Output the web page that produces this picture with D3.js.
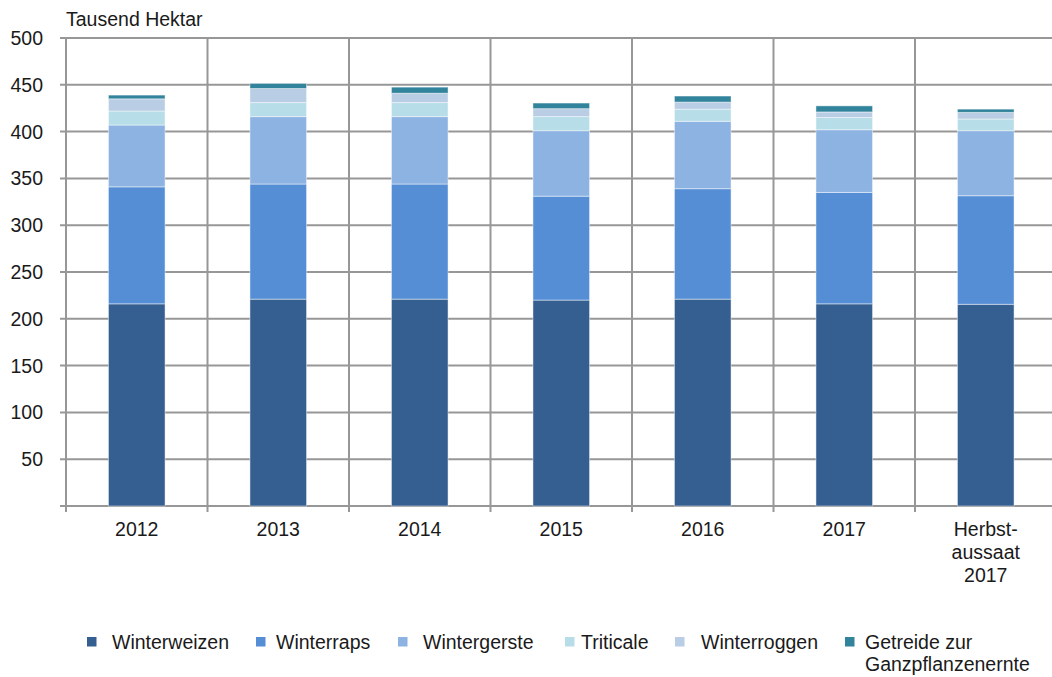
<!DOCTYPE html>
<html>
<head>
<meta charset="utf-8">
<script src="https://cdn.jsdelivr.net/npm/d3@7"></script>
<style>
  body { margin: 0; background: #fff; }
  text { font-family: 'Liberation Sans', Arial, sans-serif; fill: #1a1a1a; }
</style>
</head>
<body>
<div id="chartArea"></div>
<script>
// categories (x axis)
const years = ['2012', '2013', '2014', '2015', '2016', '2017', 'Herbst-\naussaat\n2017']

// series names, bottom to top
const crops = ['Winterweizen', 'Winterraps', 'Wintergerste', 'Triticale', 'Winterroggen', 'Getreide zur\nGanzpflanzenernte']

// values in thousand hectares, one array per series
const winterweizen = [216, 221, 221, 220, 221, 216, 215.5]
const winterraps = [125, 123, 123, 111, 118, 119, 116]
const wintergerste = [66, 72, 72, 70, 72, 67, 69.5]
const triticale = [15, 15, 15, 15, 13, 13, 12.5]
const winterroggen = [13, 15, 10, 8.5, 7.5, 6, 7]
const getreideGPE = [4, 5.5, 6.5, 6, 6.5, 6.5, 3.5]

const yTicks = [50, 100, 150, 200, 250, 300, 350, 400, 450, 500]

const colors = ['#365f91', '#558ed5', '#8db3e2', '#b7dde8', '#b9cde5', '#31849b']

const seriesValues = [winterweizen, winterraps, wintergerste, triticale, winterroggen, getreideGPE]

// build rows for d3.stack
const rows = years.map((y, i) => {
  const r = { year: y }
  crops.forEach((c, j) => { r[c] = seriesValues[j][i] })
  return r
})

const width = 1052
const height = 677
const margin = { top: 38, left: 66, bottom: 171 }
const plotRight = 1056.5
const y0 = height - margin.bottom
const fontSize = '19.5px'

const svg = d3.select('#chartArea')
  .append('svg')
  .attr('width', width)
  .attr('height', height)

const xScale = d3.scaleBand()
  .domain(years)
  .range([margin.left, plotRight])
  .paddingInner(0.6)
  .paddingOuter(0.3)

const yScale = d3.scaleLinear()
  .domain([0, 500])
  .range([y0, margin.top])

const step = xScale.step()
const gridColor = '#979797'

//
// horizontal grid lines + left ticks
//
svg.append('g')
  .selectAll('line')
  .data(yTicks)
  .join('line')
  .attr('x1', margin.left - 6)
  .attr('x2', width)
  .attr('y1', d => yScale(d))
  .attr('y2', d => yScale(d))
  .attr('stroke', gridColor)
  .attr('stroke-width', 2)

//
// vertical grid lines at category boundaries
//
const bounds = years.map(y => xScale(y) - step * 0.3).concat([plotRight])
svg.append('g')
  .selectAll('line')
  .data(bounds)
  .join('line')
  .attr('x1', d => d)
  .attr('x2', d => d)
  .attr('y1', margin.top)
  .attr('y2', y0 + 6)
  .attr('stroke', gridColor)
  .attr('stroke-width', 2)

// x axis line
svg.append('line')
  .attr('x1', margin.left - 6)
  .attr('x2', width)
  .attr('y1', y0)
  .attr('y2', y0)
  .attr('stroke', gridColor)
  .attr('stroke-width', 2)

//
// stacked bars
//
const stacked = d3.stack().keys(crops)(rows)

svg.append('g')
  .selectAll('g')
  .data(stacked)
  .join('g')
  .attr('fill', (d, i) => colors[i])
  .selectAll('rect')
  .data(d => d)
  .join('rect')
  .attr('x', d => xScale(d.data.year))
  .attr('width', xScale.bandwidth())
  .attr('y', d => yScale(d[1]))
  .attr('height', d => yScale(d[0]) - yScale(d[1]))
  .attr('stroke', '#fff')
  .attr('stroke-opacity', 0.45)
  .attr('stroke-width', 1)

//
// y tick labels
//
svg.append('g')
  .selectAll('text')
  .data(yTicks)
  .join('text')
  .attr('x', 43)
  .attr('y', d => yScale(d))
  .attr('dy', '0.36em')
  .attr('text-anchor', 'end')
  .attr('font-size', fontSize)
  .text(d => d)

// unit label
svg.append('text')
  .attr('x', margin.left)
  .attr('y', 26)
  .attr('font-size', fontSize)
  .text('Tausend Hektar')

//
// x labels (multi line)
//
svg.append('g')
  .selectAll('text')
  .data(years)
  .join('text')
  .attr('x', d => xScale(d) + xScale.bandwidth() / 2)
  .attr('y', 536)
  .attr('text-anchor', 'middle')
  .attr('font-size', fontSize)
  .each(function (d) {
    const t = d3.select(this)
    d.split('\n').forEach((line, i) => {
      t.append('tspan')
        .attr('x', xScale(d) + xScale.bandwidth() / 2)
        .attr('dy', i === 0 ? 0 : 23)
        .text(line)
    })
  })

//
// legend
//
const legendSquareX = [87, 256, 398, 565, 675, 845]
const legendTextX = [112, 276, 423, 581, 701, 865]

const legend = svg.append('g')
  .selectAll('g')
  .data(crops)
  .join('g')

legend.append('rect')
  .attr('x', (d, i) => legendSquareX[i])
  .attr('y', 637)
  .attr('width', 9.5)
  .attr('height', 9.5)
  .attr('fill', (d, i) => colors[i])

legend.append('text')
  .attr('y', 649)
  .attr('font-size', fontSize)
  .each(function (d, i) {
    const t = d3.select(this)
    d.split('\n').forEach((line, k) => {
      t.append('tspan')
        .attr('x', legendTextX[i])
        .attr('dy', k === 0 ? 0 : 22)
        .text(line)
    })
  })
</script>
</body>
</html>
